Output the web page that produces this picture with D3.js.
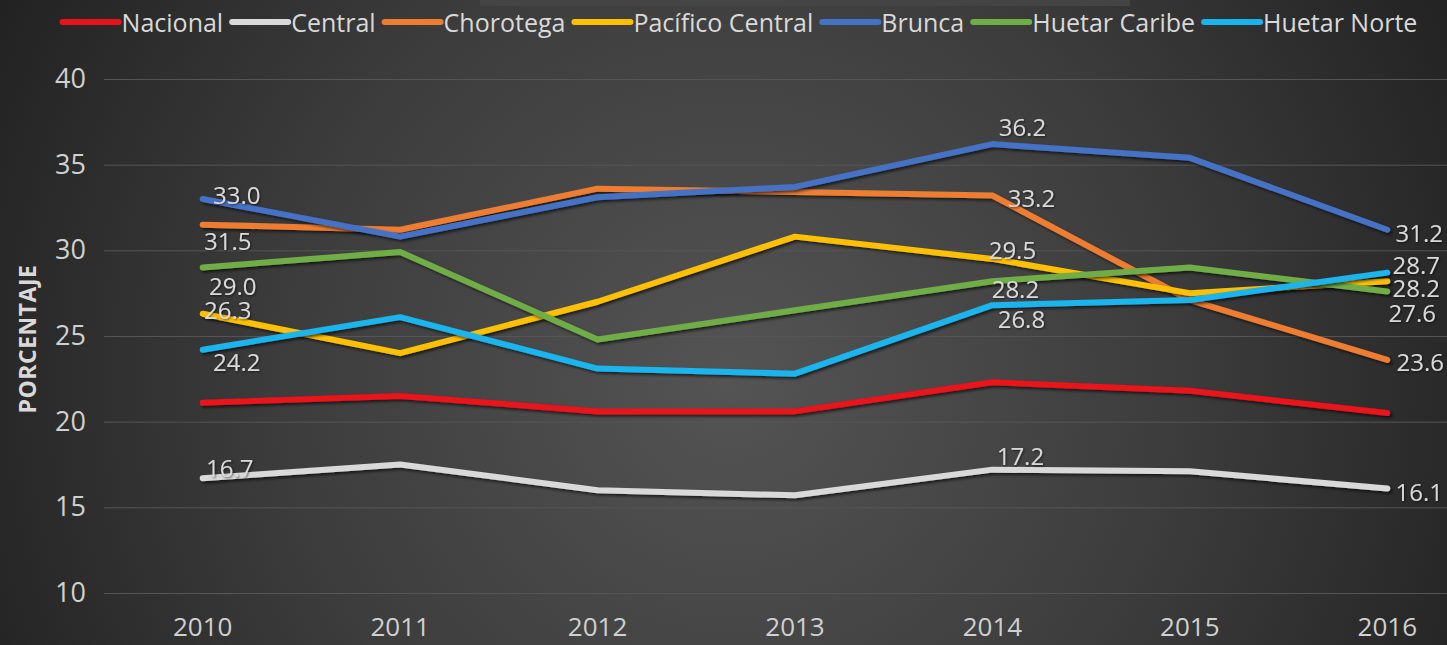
<!DOCTYPE html>
<html>
<head>
<meta charset="utf-8">
<script src="https://cdn.jsdelivr.net/npm/d3@7"></script>
<style>
  html, body { margin: 0; padding: 0; background: #2a2a2a; overflow: hidden; }
  svg { display: block; font-family: 'Open Sans', sans-serif; }
  .grid line { stroke: #555; stroke-width: 1; }
  .tick_label { fill: #d0d0d0; }
  .data_label { fill: #d9d9d9; font-size: 24px; }
  .legend_label { fill: #d9d9d9; font-size: 25px; }
</style>
</head>
<body>
<div id="chart"></div>
<script>
// Chart data
var years = [2010, 2011, 2012, 2013, 2014, 2015, 2016];
var seriesNames = ['Nacional', 'Central', 'Chorotega', 'Pacífico Central', 'Brunca', 'Huetar Caribe', 'Huetar Norte'];
var seriesColors = ['#e8121c', '#d9d9d9', '#ed7d31', '#ffc000', '#4472c4', '#70ad47', '#1ab4ec'];
var nacional = [21.1, 21.5, 20.6, 20.6, 22.3, 21.8, 20.5];
var central = [16.7, 17.5, 16.0, 15.7, 17.2, 17.1, 16.1];
var chorotega = [31.5, 31.2, 33.6, 33.4, 33.2, 27.1, 23.6];
var pacificoCentral = [26.3, 24.0, 27.0, 30.8, 29.5, 27.5, 28.2];
var brunca = [33.0, 30.8, 33.1, 33.7, 36.2, 35.4, 31.2];
var huetarCaribe = [29.0, 29.9, 24.8, 26.5, 28.2, 29.0, 27.6];
var huetarNorte = [24.2, 26.1, 23.1, 22.8, 26.8, 27.1, 28.7];
var yTicks = [10, 15, 20, 25, 30, 35, 40];
var yTitle = 'PORCENTAJE';

// which points carry a value label: [series index, year]
var labelledPoints = [
  [4, 2010], [2, 2010], [5, 2010], [3, 2010], [6, 2010], [1, 2010],
  [4, 2014], [2, 2014], [3, 2014], [5, 2014], [6, 2014], [1, 2014],
  [4, 2016], [6, 2016], [3, 2016], [5, 2016], [2, 2016], [1, 2016]
];

var allValues = [nacional, central, chorotega, pacificoCentral, brunca, huetarCaribe, huetarNorte];

// label nudges (layout only), keyed series|year
var labelNudge = {
  '4|2010': [34, -4], '2|2010': [25, 16], '5|2010': [30, 18], '3|2010': [25, -4],
  '6|2010': [34, 12], '1|2010': [27, -11],
  '4|2014': [30, -18], '2|2014': [39, 2], '3|2014': [20, -9], '5|2014': [23, 7],
  '6|2014': [29, 13], '1|2014': [28, -14],
  '4|2016': [32, 3], '6|2016': [29, -8], '3|2016': [29, 6], '5|2016': [25, 21],
  '2|2016': [33, 2], '1|2016': [32, 3]
};

var width = 1447,
  height = 645,
  plot = { left: 104, right: 1486, top: 79, bottom: 593 };

var svg = d3.select('#chart').append('svg')
  .attr('width', width)
  .attr('height', height);

var defs = svg.append('defs');
var bg = defs.append('radialGradient')
  .attr('id', 'bg')
  .attr('gradientUnits', 'userSpaceOnUse')
  .attr('cx', 730).attr('cy', 380).attr('r', 820);
bg.append('stop').attr('offset', 0).attr('stop-color', '#545454');
bg.append('stop').attr('offset', 0.55).attr('stop-color', '#3c3c3c');
bg.append('stop').attr('offset', 1).attr('stop-color', '#222');

var shadow = defs.append('filter').attr('id', 'shadow')
  .attr('x', '-5%').attr('y', '-20%').attr('width', '110%').attr('height', '140%');
shadow.append('feDropShadow')
  .attr('dx', 2).attr('dy', 2).attr('stdDeviation', 1.6)
  .attr('flood-color', '#000').attr('flood-opacity', 0.65);

var textShadow = defs.append('filter').attr('id', 'textShadow');
textShadow.append('feDropShadow')
  .attr('dx', 1).attr('dy', 1).attr('stdDeviation', 0.8)
  .attr('flood-color', '#000').attr('flood-opacity', 0.6);

svg.append('rect').attr('width', width).attr('height', height).attr('fill', 'url(#bg)');
svg.append('rect').attr('x', 480).attr('y', 0).attr('width', 650).attr('height', 6).attr('fill', '#444');

var x = d3.scaleBand().domain(years).range([plot.left, plot.right]).padding(0);
var y = d3.scaleLinear().domain([10, 40]).range([plot.bottom, plot.top]);
function px(yr) { return x(yr) + x.bandwidth() / 2; }

// gridlines + y labels
var yAxis = d3.axisLeft(y).tickValues(yTicks).tickSize(-(plot.right - plot.left)).tickPadding(18);
var ya = svg.append('g')
  .attr('class', 'grid')
  .attr('transform', 'translate(' + plot.left + ',0)')
  .call(yAxis);
ya.select('.domain').remove();
ya.selectAll('text').attr('class', 'tick_label').attr('fill', null)
  .style('font-family', 'Open Sans').style('font-size', '27px');

// x labels
var xAxis = d3.axisBottom(x).tickSize(0).tickPadding(23);
var xa = svg.append('g')
  .attr('transform', 'translate(0,' + (plot.bottom + 2) + ')')
  .call(xAxis);
xa.select('.domain').remove();
xa.selectAll('text').attr('class', 'tick_label').attr('fill', null)
  .style('font-family', 'Open Sans').style('font-size', '26px');

svg.append('text')
  .attr('transform', 'translate(36,339) rotate(-90)')
  .attr('text-anchor', 'middle')
  .attr('fill', '#d9d9d9')
  .style('font-size', '23px')
  .style('font-weight', 'bold')
  .style('letter-spacing', '0.5px')
  .text(yTitle);

// lines
var line = d3.line()
  .x(function (d, i) { return px(years[i]); })
  .y(function (d) { return y(d); });

svg.append('g').selectAll('path')
  .data(allValues)
  .enter()
  .append('path')
  .attr('d', line)
  .attr('fill', 'none')
  .attr('stroke', function (d, i) { return seriesColors[i]; })
  .attr('stroke-width', 6)
  .attr('stroke-linejoin', 'round')
  .attr('stroke-linecap', 'round')
  .attr('filter', 'url(#shadow)');

// value labels
svg.append('g').selectAll('text')
  .data(labelledPoints)
  .enter()
  .append('text')
  .attr('class', 'data_label')
  .attr('text-anchor', 'middle')
  .attr('dominant-baseline', 'central')
  .attr('filter', 'url(#textShadow)')
  .attr('x', function (d) { return px(d[1]) + labelNudge[d[0] + '|' + d[1]][0]; })
  .attr('y', function (d) {
    var v = allValues[d[0]][years.indexOf(d[1])];
    return y(v) + labelNudge[d[0] + '|' + d[1]][1];
  })
  .text(function (d) { return d3.format('.1f')(allValues[d[0]][years.indexOf(d[1])]); });

// legend
var legend = svg.append('g');
var lx = 0;
seriesNames.forEach(function (name, i) {
  legend.append('line')
    .attr('x1', lx).attr('x2', lx + 56)
    .attr('y1', 22).attr('y2', 22)
    .attr('stroke', seriesColors[i])
    .attr('stroke-width', 6)
    .attr('stroke-linecap', 'round');
  var t = legend.append('text')
    .attr('class', 'legend_label')
    .attr('x', lx + 59)
    .attr('y', 22)
    .attr('dominant-baseline', 'central')
    .text(name);
  lx += 59 + t.node().getComputedTextLength() + 9;
});
legend.attr('transform', 'translate(' + (740 - (lx - 9) / 2) + ',0)');
</script>
</body>
</html>
